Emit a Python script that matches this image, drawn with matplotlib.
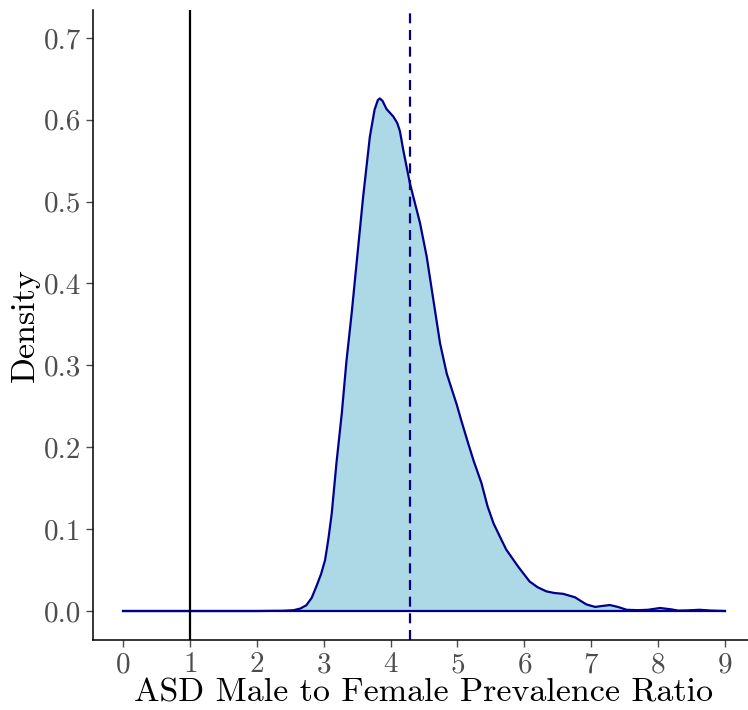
import matplotlib
matplotlib.use("Agg")
import matplotlib.pyplot as plt

plt.rcParams['font.family'] = ['cmr10', 'DejaVu Serif']
plt.rcParams['axes.formatter.use_mathtext'] = True

# density curve
ratio = [0.0, 1.0, 2.0, 2.4, 2.55, 2.65, 2.74, 2.82, 2.89, 2.96, 3.02, 3.07,
         3.12, 3.19, 3.27, 3.34, 3.42, 3.48, 3.59, 3.69, 3.76, 3.81, 3.84,
         3.88, 3.94, 4.04, 4.1, 4.14, 4.19, 4.29, 4.44, 4.54, 4.64, 4.74,
         4.84, 4.99, 5.06, 5.16, 5.24, 5.36, 5.45, 5.54, 5.64, 5.73, 5.91,
         6.08, 6.2, 6.33, 6.45, 6.58, 6.76, 6.85, 6.93, 7.06, 7.15, 7.28,
         7.4, 7.53, 7.7, 7.85, 8.03, 8.2, 8.3, 8.45, 8.62, 8.8, 9.0]
density = [0.0, 0.0, 0.0, 0.0003, 0.001, 0.003, 0.007, 0.016, 0.030, 0.045,
           0.062, 0.088, 0.119, 0.180, 0.241, 0.305, 0.365, 0.415, 0.506,
           0.579, 0.612, 0.624, 0.626, 0.623, 0.613, 0.604, 0.596, 0.586,
           0.563, 0.522, 0.474, 0.433, 0.380, 0.327, 0.290, 0.252, 0.232,
           0.205, 0.184, 0.156, 0.128, 0.107, 0.09, 0.075, 0.054, 0.036,
           0.029, 0.024, 0.022, 0.021, 0.0167, 0.012, 0.008, 0.005, 0.006,
           0.0073, 0.005, 0.0015, 0.001, 0.0015, 0.0037, 0.002, 0.0005,
           0.0008, 0.0015, 0.0005, 0.0]

ref_line = 1.0
mean_line = 4.29
xticks = list(range(0, 10))
yticks = [0.0, 0.1, 0.2, 0.3, 0.4, 0.5, 0.6, 0.7]

fig = plt.figure(figsize=(7.48, 7.10), dpi=100)
ax = fig.add_axes([93/748, 70/710, 662/748, 630/710])

ax.fill_between(ratio, density, 0, color='#ADD8E6', lw=0)
ax.plot(ratio, density, color='#00008B', lw=1.6)
ax.plot([ratio[0], ratio[-1]], [0, 0], color='#00008B', lw=1.6)
ax.axvline(ref_line, color='black', lw=1.6)
ax.axvline(mean_line, color='#00008B', lw=1.6, ls=(0, (4.5, 3)))

ax.set_xlim(-0.45, 9.45)
ax.set_ylim(-0.0354, 0.734)
ax.set_xticks(xticks)
ax.set_yticks(yticks)
ax.set_yticklabels([f'{v:.1f}' for v in yticks])
ax.tick_params(colors='#4D4D4D', labelsize=21, length=5, width=1)
for lab in ax.get_xticklabels() + ax.get_yticklabels():
    lab.set_color('#4D4D4D')
ax.spines['top'].set_visible(False)
ax.spines['right'].set_visible(False)
for s in ['left', 'bottom']:
    ax.spines[s].set_linewidth(1.1)

ax.set_xlabel('ASD Male to Female Prevalence Ratio', fontsize=24.5, labelpad=0)
ax.set_ylabel('Density', fontsize=24.5, labelpad=3)

fig.savefig('out.png', dpi=100)
